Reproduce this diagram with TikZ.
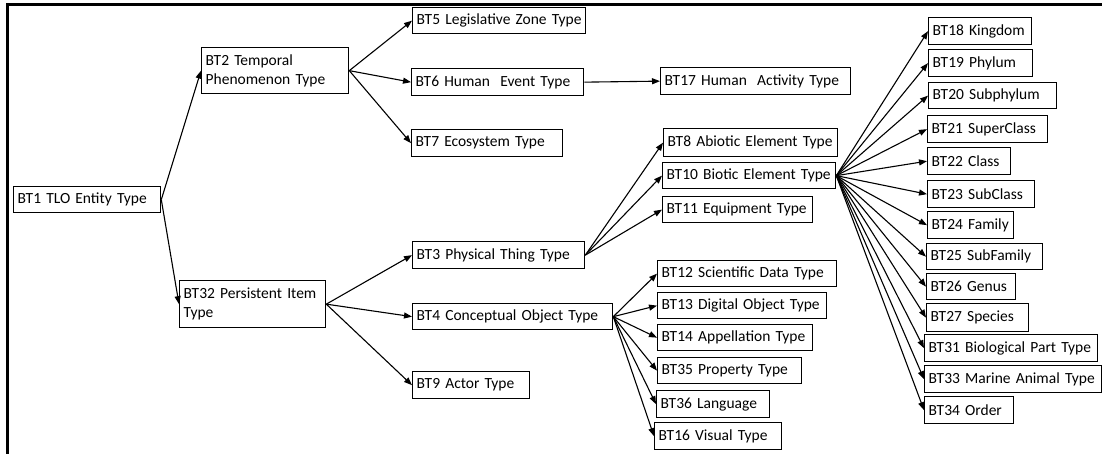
\documentclass[tikz,border=0pt]{standalone}
\usepackage{fontspec}
\setmainfont{Carlito}
\usetikzlibrary{arrows.meta}
\tikzset{
  box/.style={draw, line width=1.3pt, anchor=north west, inner xsep=4pt, inner ysep=0pt,
    align=left, font=\fontsize{15.5}{19}\selectfont},
  arr/.style={line width=1.1pt, -{Triangle[length=8pt,width=6pt]}},
  frame/.style={line width=2.6pt}
}
\begin{document}
\begin{tikzpicture}[x=1pt,y=-1pt]
\useasboundingbox (0,0) rectangle (1102,454);
\draw[frame] (7.5,454) -- (7.5,4.5) -- (1102,4.5);
% level 1-2
\node[box,text width=139pt,minimum height=26pt] (bt1) at (13,186) {BT1 TLO Entity Type};
\node[box,text width=139pt,minimum height=46pt] (bt2) at (201,47) {BT2 Temporal\\Phenomenon Type};
\node[box,text width=138pt,minimum height=47pt] (bt32) at (179,280) {BT32 Persistent Item\\Type};
% level 3
\node[box,text width=165pt,minimum height=26pt] (bt5) at (412,7) {BT5 Legislative Zone Type};
\node[box,text width=164pt,minimum height=27pt] (bt6) at (411,68) {BT6 Human~ Event Type};
\node[box,text width=143pt,minimum height=27pt] (bt7) at (411,129) {BT7 Ecosystem Type};
\node[box,text width=164pt,minimum height=27pt] (bt3) at (412,241) {BT3 Physical Thing Type};
\node[box,text width=192pt,minimum height=26pt] (bt4) at (412,303) {BT4 Conceptual Object Type};
\node[box,text width=109pt,minimum height=27pt] (bt9) at (412,371) {BT9 Actor Type};
% level 4
\node[box,text width=182pt,minimum height=27pt] (bt17) at (660,67) {BT17 Human~ Activity Type};
\node[box,text width=166pt,minimum height=28pt] (bt8) at (663,128) {BT8 Abiotic Element Type};
\node[box,text width=165pt,minimum height=26pt] (bt10) at (662,162) {BT10 Biotic Element Type};
\node[box,text width=142pt,minimum height=26pt] (bt11) at (662,196) {BT11 Equipment Type};
\node[box,text width=171pt,minimum height=26pt] (bt12) at (657,260) {BT12 Scientific Data Type};
\node[box,text width=161pt,minimum height=26pt] (bt13) at (657,292) {BT13 Digital Object Type};
\node[box,text width=147pt,minimum height=26pt] (bt14) at (657,324) {BT14 Appellation Type};
\node[box,text width=136pt,minimum height=26pt] (bt35) at (657,357) {BT35 Property Type};
\node[box,text width=105pt,minimum height=27pt] (bt36) at (656,390) {BT36 Language};
\node[box,text width=119pt,minimum height=27pt] (bt16) at (654,422) {BT16 Visual Type};
% level 5
\node[box,text width=95pt,minimum height=27pt] (bt18) at (928,17) {BT18 Kingdom};
\node[box,text width=96pt,minimum height=27pt] (bt19) at (928,49) {BT19 Phylum};
\node[box,text width=120pt,minimum height=26pt] (bt20) at (928,82) {BT20 Subphylum};
\node[box,text width=112pt,minimum height=27pt] (bt21) at (927,115) {BT21 SuperClass};
\node[box,text width=75pt,minimum height=27pt] (bt22) at (927,147) {BT22 Class};
\node[box,text width=99pt,minimum height=27pt] (bt23) at (927,180) {BT23 SubClass};
\node[box,text width=78pt,minimum height=27pt] (bt24) at (927,211) {BT24 Family};
\node[box,text width=108pt,minimum height=26pt] (bt25) at (926,243) {BT25 SubFamily};
\node[box,text width=81pt,minimum height=26pt] (bt26) at (926,273) {BT26 Genus};
\node[box,text width=94pt,minimum height=28pt] (bt27) at (926,303) {BT27 Species};
\node[box,text width=165pt,minimum height=27pt] (bt31) at (924,334) {BT31 Biological Part Type};
\node[box,text width=169pt,minimum height=27pt] (bt33) at (924,365) {BT33 Marine Animal Type};
\node[box,text width=81pt,minimum height=27pt] (bt34) at (924,396) {BT34 Order};
% connectors
\draw[arr] (bt1.east) -- (bt2.west);
\draw[arr] (bt1.east) -- (bt32.west);
\foreach \c in {bt5,bt6,bt7} \draw[arr] (bt2.east) -- (\c.west);
\draw[arr] (bt6.east) -- (bt17.west);
\foreach \c in {bt3,bt4,bt9} \draw[arr] (bt32.east) -- (\c.west);
\foreach \c in {bt8,bt10,bt11} \draw[arr] (bt3.east) -- (\c.west);
\foreach \c in {bt12,bt13,bt14,bt35,bt36,bt16} \draw[arr] (bt4.east) -- (\c.west);
\foreach \c in {bt18,bt19,bt20,bt21,bt22,bt23,bt24,bt25,bt26,bt27,bt31,bt33,bt34} \draw[arr] (bt10.east) -- (\c.west);
\end{tikzpicture}
\end{document}
